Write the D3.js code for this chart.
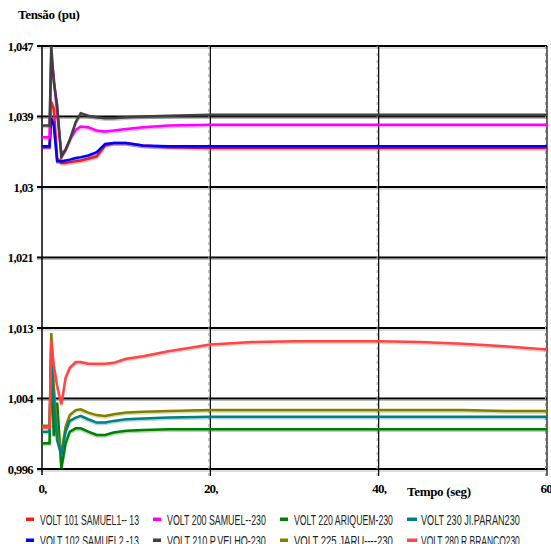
<!DOCTYPE html>
<html>
<head>
<meta charset="utf-8">
<script src="https://cdn.jsdelivr.net/npm/d3@7"></script>
<style>
  html, body { margin: 0; padding: 0; background: #fff; }
  svg { display: block; }
</style>
</head>
<body>
<div id="wrapper"></div>
<script>
// time axis (seg)
const tempo = [0, 0.9, 1.1, 1.4, 1.8, 2.3, 2.8, 3.3, 4, 4.6, 5.5, 6.5, 7.5, 8.5, 10, 12, 15, 20, 25, 30, 35, 40, 45, 50, 55, 60];

// voltages (pu), one per bus
const volt101 = [1.0348, 1.0348, 1.0403, 1.0395, 1.0335, 1.0329, 1.0329, 1.0330, 1.0331, 1.0332, 1.0334, 1.0337, 1.0350, 1.0353, 1.0353, 1.0350, 1.0348, 1.0347, 1.0347, 1.0347, 1.0347, 1.0347, 1.0347, 1.0347, 1.0347, 1.0347];
const volt102 = [1.0349, 1.0349, 1.0383, 1.0375, 1.0331, 1.0331, 1.0332, 1.0333, 1.0335, 1.0336, 1.0338, 1.0342, 1.0352, 1.0353, 1.0353, 1.0350, 1.0349, 1.0349, 1.0349, 1.0349, 1.0349, 1.0349, 1.0349, 1.0349, 1.0349, 1.0349];
const volt200 = [1.0360, 1.0360, 1.0455, 1.0432, 1.0390, 1.0340, 1.0345, 1.0357, 1.0369, 1.0373, 1.0372, 1.0368, 1.0367, 1.0368, 1.0370, 1.0372, 1.0374, 1.0375, 1.0375, 1.0375, 1.0375, 1.0375, 1.0375, 1.0375, 1.0375, 1.0375];
const volt210 = [1.0374, 1.0374, 1.0470, 1.0427, 1.0399, 1.0336, 1.0345, 1.0357, 1.0378, 1.0389, 1.0386, 1.0384, 1.0383, 1.0383, 1.0384, 1.0385, 1.0386, 1.0387, 1.0387, 1.0387, 1.0387, 1.0387, 1.0387, 1.0387, 1.0387, 1.0387];
const volt220 = [0.9991, 0.9991, 1.0103, 1.0000, 1.0040, 0.9961, 0.9991, 1.0005, 1.0009, 1.0009, 1.0005, 1.0001, 1.0001, 1.0004, 1.0006, 1.0007, 1.0008, 1.0008, 1.0008, 1.0008, 1.0008, 1.0008, 1.0008, 1.0008, 1.0008, 1.0008];
const volt225 = [1.0012, 1.0012, 1.0124, 1.0060, 1.0005, 0.9979, 1.0011, 1.0025, 1.0031, 1.0032, 1.0028, 1.0025, 1.0024, 1.0026, 1.0028, 1.0029, 1.0030, 1.0031, 1.0031, 1.0031, 1.0031, 1.0031, 1.0031, 1.0031, 1.0030, 1.0030];
const volt230 = [1.0005, 1.0005, 1.0095, 1.0040, 0.9995, 0.9977, 1.0005, 1.0018, 1.0022, 1.0024, 1.0020, 1.0016, 1.0016, 1.0018, 1.0020, 1.0021, 1.0022, 1.0023, 1.0023, 1.0023, 1.0023, 1.0023, 1.0023, 1.0023, 1.0023, 1.0023];
const volt280 = [1.0010, 1.0010, 1.0115, 1.0085, 1.0060, 1.0038, 1.0070, 1.0082, 1.0089, 1.0089, 1.0087, 1.0087, 1.0087, 1.0088, 1.0093, 1.0096, 1.0102, 1.0110, 1.0113, 1.0114, 1.0114, 1.0114, 1.0113, 1.0111, 1.0108, 1.0104];

const seriesNames = ['VOLT 101 SAMUEL1-- 13', 'VOLT 102 SAMUEL2 -13', 'VOLT 200 SAMUEL--230', 'VOLT 210 P.VELHO-230',
                     'VOLT 220 ARIQUEM-230', 'VOLT 225 JARU----230', 'VOLT 230 JI.PARAN230', 'VOLT 280 R.BRANCO230'];
const seriesValues = [volt101, volt102, volt200, volt210, volt220, volt225, volt230, volt280];
const colors = ['#ff1a1a', '#0000ff', '#ff00ff', '#404040', '#008000', '#808000', '#008080', '#ff4545'];

const yTicks = [0.996, 1.0045, 1.013, 1.0215, 1.030, 1.0385, 1.047];
const yTickLabels = ['0,996', '1,004', '1,013', '1,021', '1,03', '1,039', '1,047'];
const xTicks = [0, 20, 40, 60];
const xTickLabels = ['0,', '20,', '40,', '60,'];

const W = 551, H = 544;
const svg = d3.select('#wrapper').append('svg').attr('width', W).attr('height', H);

const x = d3.scaleLinear().domain([0, 60]).range([42, 547]);
const y = d3.scaleLinear().domain([0.996, 1.047]).range([469, 46]);

const serif = '"Liberation Serif", "Times New Roman", serif';

// horizontal grid
const grid = svg.append('g');
grid.selectAll('line.hs').data(yTicks).enter().append('line')
  .attr('x1', 37).attr('x2', 547)
  .attr('y1', d => y(d) + 2).attr('y2', d => y(d) + 2)
  .attr('stroke', '#bbb').attr('stroke-width', 1);
grid.selectAll('line.h').data(yTicks).enter().append('line')
  .attr('x1', 37).attr('x2', 547)
  .attr('y1', d => y(d)).attr('y2', d => y(d))
  .attr('stroke', '#000').attr('stroke-width', 2.2);

// vertical grid
grid.selectAll('line.vs').data(xTicks.slice(1)).enter().append('line')
  .attr('x1', d => x(d) - 1.5).attr('x2', d => x(d) - 1.5)
  .attr('y1', 46).attr('y2', 476)
  .attr('stroke', '#aaa').attr('stroke-width', 1).attr('stroke-dasharray', '3,4');
grid.selectAll('line.v').data(xTicks.slice(1)).enter().append('line')
  .attr('x1', d => x(d)).attr('x2', d => x(d))
  .attr('y1', 46).attr('y2', 476)
  .attr('stroke', '#000').attr('stroke-width', 1.2);

// left axis
svg.append('line').attr('x1', x(0)).attr('x2', x(0)).attr('y1', 46).attr('y2', 475)
  .attr('stroke', '#000').attr('stroke-width', 1.5);

// y labels
const yAxis = d3.axisLeft(y).tickValues(yTicks).tickFormat((d, i) => yTickLabels[i]).tickSize(0).tickPadding(9);
const ya = svg.append('g').attr('transform', 'translate(' + x(0) + ',0)').call(yAxis);
ya.select('.domain').remove();
ya.selectAll('text').attr('font-family', serif).attr('font-weight', 'bold').attr('font-size', 12.5)
  .attr('letter-spacing', '-0.6px').attr('fill', '#000');

// x labels
const xAxis = d3.axisBottom(x).tickValues(xTicks).tickFormat((d, i) => xTickLabels[i]).tickSize(0).tickPadding(0);
const xa = svg.append('g').attr('transform', 'translate(0,484)').call(xAxis);
xa.select('.domain').remove();
xa.selectAll('text').attr('font-family', serif).attr('font-weight', 'bold').attr('font-size', 13)
  .attr('letter-spacing', '-0.8px').attr('fill', '#000');

svg.append('text').attr('x', 407).attr('y', 496).text('Tempo (seg)')
  .attr('font-family', serif).attr('font-weight', 'bold').attr('font-size', 13).attr('letter-spacing', '-0.3px');
svg.append('text').attr('x', 18).attr('y', 19).text('Tensão (pu)')
  .attr('font-family', serif).attr('font-weight', 'bold').attr('font-size', 13).attr('letter-spacing', '-0.3px');

// lines
const line = d3.line().x((d, i) => x(tempo[i])).y(d => y(d));
const lines = svg.append('g');
seriesValues.forEach((vals, k) => {
  lines.append('path').datum(vals).attr('d', line)
    .attr('transform', 'translate(0,1.5)')
    .attr('fill', 'none').attr('stroke', colors[k]).attr('stroke-opacity', 0.3).attr('stroke-width', 2.5);
  lines.append('path').datum(vals).attr('d', line)
    .attr('fill', 'none').attr('stroke', colors[k]).attr('stroke-width', 2.5)
    .attr('stroke-linejoin', 'miter');
});

// legend: row by row, 4 columns, narrow text squeezed to ~99px
const legendOrder = [0, 2, 4, 6, 1, 3, 5, 7];
const colX = [26, 153, 280, 407];
const rowY = [519, 540];
const leg = svg.append('g').selectAll('g').data(legendOrder).enter().append('g')
  .attr('transform', (d, i) => 'translate(' + colX[i % 4] + ',' + rowY[Math.floor(i / 4)] + ')');
leg.append('rect').attr('x', 0).attr('y', -1.5).attr('width', (d, i) => i % 4 === 3 ? 10 : 8).attr('height', 3.5)
  .attr('fill', d => colors[d]);
leg.append('text')
  .text(d => seriesNames[d])
  .attr('font-family', '"Liberation Sans", Arial, sans-serif').attr('font-size', 14)
  .attr('fill', '#222')
  .attr('transform', function () {
    const s = 99 / this.getComputedTextLength();
    return 'translate(14,6) scale(' + s + ',1)';
  });
</script>
</body>
</html>
